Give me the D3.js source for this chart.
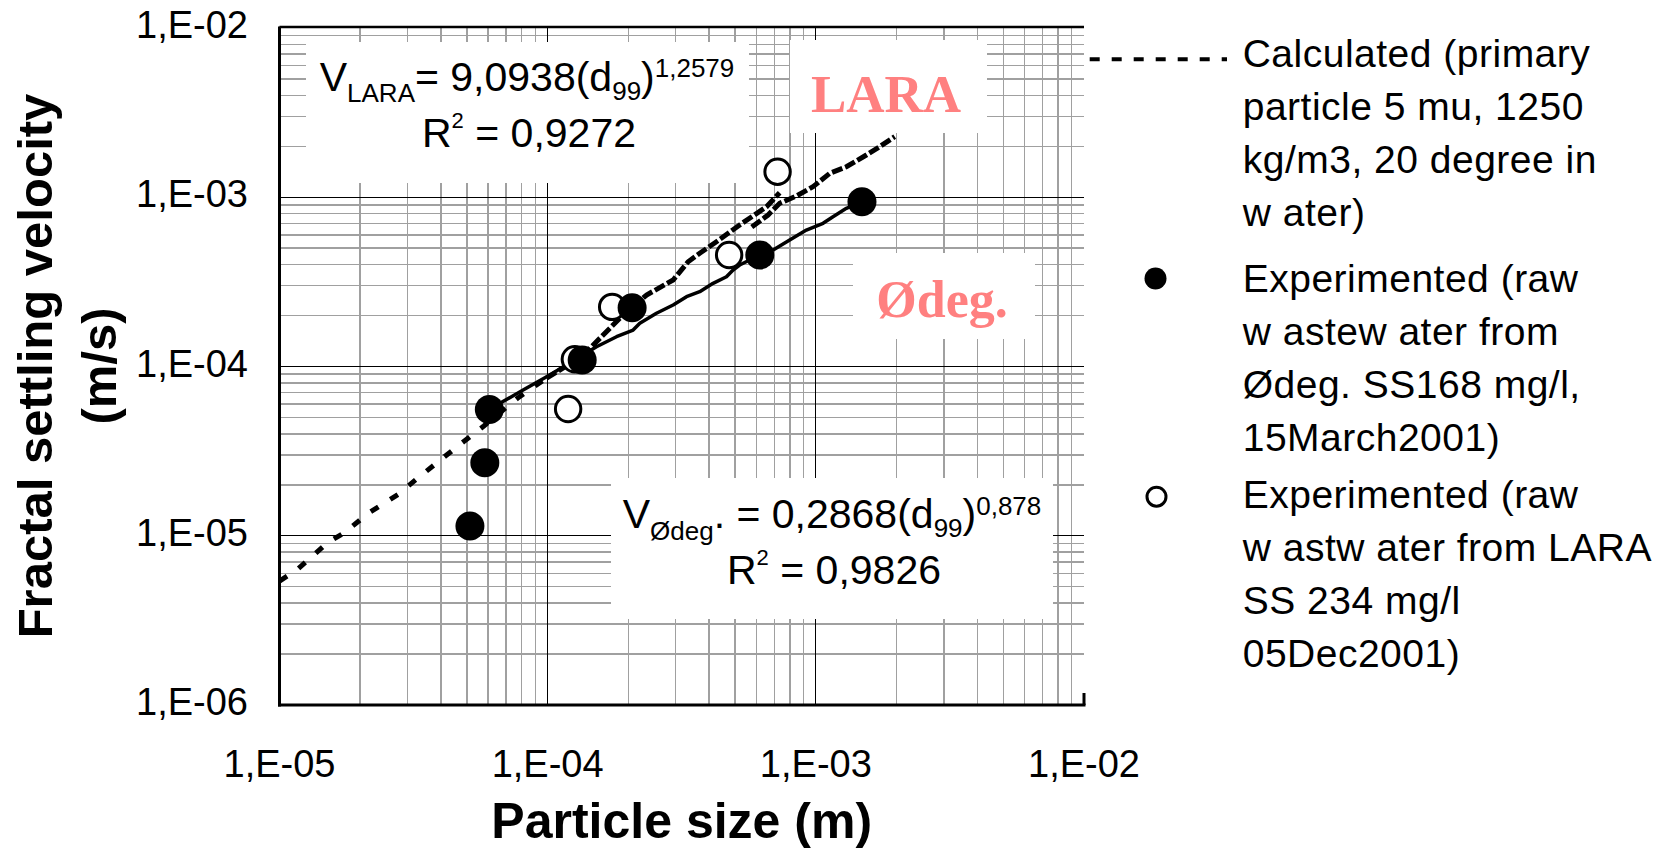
<!DOCTYPE html>
<html>
<head>
<meta charset="utf-8">
<script src="https://cdn.jsdelivr.net/npm/d3@7"></script>
<style>
  body { margin: 0; background: #fff; }
  svg { display: block; font-family: Arial, "Liberation Sans", sans-serif; }
</style>
</head>
<body>
<svg id="chart" width="1673" height="850"></svg>
<script>
// axis ticks
const xTickValues = [1e-5, 1e-4, 1e-3, 1e-2];
const xTickLabels = ["1,E-05", "1,E-04", "1,E-03", "1,E-02"];
const yTickValues = [1e-6, 1e-5, 1e-4, 1e-3, 1e-2];
const yTickLabels = ["1,E-06", "1,E-05", "1,E-04", "1,E-03", "1,E-02"];

// experimented, raw wastewater from Ødeg (filled dots)
const odegSize = [5.13e-5, 5.83e-5, 6.06e-5, 1.345e-4, 2.065e-4, 6.18e-4, 1.486e-3];
const odegVel  = [1.14e-5, 2.70e-5, 5.57e-5, 1.093e-4, 2.225e-4, 4.56e-4, 9.42e-4];

// experimented, raw wastewater from LARA (open dots)
const laraSize = [1.192e-4, 1.263e-4, 1.74e-4, 4.75e-4, 7.2e-4];
const laraVel  = [5.61e-5, 1.103e-4, 2.25e-4, 4.56e-4, 1.416e-3];

// calculated curves, [size, velocity]
const calcLow = [[1.00e-5,5.40e-6],[1.159e-5,6.28e-6],[1.50e-5,9.02e-6],[1.754e-5,1.048e-5],
  [2.143e-5,1.358e-5],[2.773e-5,1.758e-5],[3.246e-5,2.164e-5],[4.20e-5,3.00e-5],
  [4.99e-5,3.715e-5],[5.78e-5,4.45e-5],[7.74e-5,6.52e-5],[9.91e-5,8.55e-5]];
const calcLaraA = [[9.91e-5,8.55e-5],[1.175e-4,1.007e-4],[1.396e-4,1.223e-4],[1.858e-4,1.927e-4],
  [2.338e-4,2.645e-4],[2.937e-4,3.245e-4],[3.34e-4,4.16e-4],[3.69e-4,4.667e-4],
  [4.26e-4,5.46e-4],[5.20e-4,6.86e-4],[6.55e-4,8.79e-4],[7.33e-4,1.064e-3]];
const calcLaraB = [[5.77e-4,6.67e-4],[6.635e-4,7.855e-4],[7.33e-4,9.21e-4],[8.47e-4,1.017e-3],
  [9.76e-4,1.154e-3],[1.127e-3,1.385e-3],[1.30e-3,1.515e-3],[1.543e-3,1.777e-3],
  [1.730e-3,1.989e-3],[1.968e-3,2.28e-3]];
const calcOdeg = [[6.064e-5,5.57e-5],[6.635e-5,6.063e-5],[8.10e-5,7.26e-5],[9.91e-5,8.70e-5],
  [1.175e-4,1.021e-4],[1.521e-4,1.309e-4],[1.806e-4,1.50e-4],[2.083e-4,1.643e-4],
  [2.206e-4,1.80e-4],[2.545e-4,2.062e-4],[2.937e-4,2.309e-4],[3.294e-4,2.585e-4],
  [3.69e-4,2.766e-4],[4.138e-4,3.10e-4],[4.643e-4,3.393e-4],[4.913e-4,3.717e-4],
  [5.20e-4,3.978e-4],[6.178e-4,4.558e-4],[6.93e-4,4.88e-4],[7.99e-4,5.59e-4],
  [9.22e-4,6.40e-4],[1.064e-3,7.02e-4],[1.159e-3,7.675e-4],[1.30e-3,8.60e-4],[1.487e-3,9.41e-4]];

const legendCalc = ["Calculated (primary", "particle 5 mu, 1250", "kg/m3, 20 degree in", "w ater)"];
const legendOdeg = ["Experimented (raw", "w astew ater from", "Ødeg. SS168 mg/l,", "15March2001)"];
const legendLara = ["Experimented (raw", "w astw ater from LARA", "SS 234 mg/l", "05Dec2001)"];

const svg = d3.select("#chart");
svg.append("rect").attr("width", 1673).attr("height", 850).attr("fill", "#fff");

const x = d3.scaleLog().domain([1e-5, 1e-2]).range([279.5, 1084]);
const y = d3.scaleLog().domain([1e-6, 1e-2]).range([705, 28]);

// minor grid lines
const minorX = [], minorY = [];
[1e-5, 1e-4, 1e-3].forEach(d => { for (let k = 2; k <= 9; k++) minorX.push(d * k); });
[1e-6, 1e-5, 1e-4, 1e-3].forEach(d => { for (let k = 2; k <= 9; k++) minorY.push(d * k); });

const grid = svg.append("g").attr("shape-rendering", "crispEdges");
grid.selectAll("line.mx").data(minorX).enter().append("line")
    .attr("x1", d => x(d)).attr("x2", d => x(d))
    .attr("y1", y(1e-2)).attr("y2", y(1e-6))
    .attr("stroke", "#a0a0a0").attr("stroke-width", 1.5);
grid.selectAll("line.my").data(minorY).enter().append("line")
    .attr("y1", d => y(d)).attr("y2", d => y(d))
    .attr("x1", x(1e-5)).attr("x2", x(1e-2))
    .attr("stroke", "#a0a0a0").attr("stroke-width", 1.5);
grid.selectAll("line.MX").data([1e-4, 1e-3]).enter().append("line")
    .attr("x1", d => x(d)).attr("x2", d => x(d))
    .attr("y1", y(1e-2)).attr("y2", y(1e-6))
    .attr("stroke", "#000").attr("stroke-width", 1);
grid.selectAll("line.MY").data([1e-5, 1e-4, 1e-3]).enter().append("line")
    .attr("y1", d => y(d)).attr("y2", d => y(d))
    .attr("x1", x(1e-5)).attr("x2", x(1e-2))
    .attr("stroke", "#000").attr("stroke-width", 1);

// white boxes behind the annotations
const boxes = [
    {x: 306, y: 42, w: 443, h: 141},
    {x: 611, y: 478, w: 442, h: 141},
    {x: 790, y: 40, w: 197, h: 93},
    {x: 853, y: 253, w: 182, h: 86}
];
svg.selectAll("rect.box").data(boxes).enter().append("rect")
    .attr("x", d => d.x).attr("y", d => d.y)
    .attr("width", d => d.w).attr("height", d => d.h)
    .attr("fill", "#fff");

// frame
const frame = svg.append("g").attr("stroke", "#000");
frame.append("line").attr("x1", x(1e-5)).attr("x2", x(1e-5))
    .attr("y1", y(1e-2) - 1.5).attr("y2", y(1e-6) + 1.5).attr("stroke-width", 3);
frame.append("line").attr("x1", x(1e-5) - 1.5).attr("x2", x(1e-2) + 1.5)
    .attr("y1", y(1e-6)).attr("y2", y(1e-6)).attr("stroke-width", 3);
frame.append("line").attr("x1", x(1e-5)).attr("x2", x(1e-2))
    .attr("y1", y(1e-2) - 1).attr("y2", y(1e-2) - 1).attr("stroke-width", 2.5);
frame.append("line").attr("x1", x(1e-2)).attr("x2", x(1e-2))
    .attr("y1", y(1e-6) - 12).attr("y2", y(1e-6)).attr("stroke-width", 3);

// tick labels
svg.selectAll("text.xt").data(xTickValues).enter().append("text")
    .attr("x", d => x(d)).attr("y", 777)
    .attr("text-anchor", "middle").attr("font-size", 38)
    .text((d, i) => xTickLabels[i]);
svg.selectAll("text.yt").data(yTickValues).enter().append("text")
    .attr("x", 248).attr("y", d => y(d) + 10)
    .attr("text-anchor", "end").attr("font-size", 38)
    .text((d, i) => yTickLabels[i]);

// axis titles
svg.append("text").attr("x", 681.7).attr("y", 838)
    .attr("text-anchor", "middle").attr("font-size", 50).attr("font-weight", "bold")
    .text("Particle size (m)");
const yt = svg.append("g").attr("font-size", 49).attr("font-weight", "bold").attr("text-anchor", "middle");
yt.append("text").attr("transform", "translate(52,366) rotate(-90)").text("Fractal settling velocity");
yt.append("text").attr("transform", "translate(116,366) rotate(-90)").text("(m/s)");

// calculated curves
const line = d3.line().x(d => x(d[0])).y(d => y(d[1]));
svg.append("path").attr("d", line(calcLow)).attr("fill", "none")
    .attr("stroke", "#000").attr("stroke-width", 5).attr("stroke-dasharray", "9 14");
svg.append("path").attr("d", line(calcLaraA)).attr("fill", "none")
    .attr("stroke", "#000").attr("stroke-width", 5).attr("stroke-dasharray", "11 3");
svg.append("path").attr("d", line(calcLaraB)).attr("fill", "none")
    .attr("stroke", "#000").attr("stroke-width", 5).attr("stroke-dasharray", "11 3");
svg.append("path").attr("d", line(calcOdeg)).attr("fill", "none")
    .attr("stroke", "#000").attr("stroke-width", 3.5).attr("stroke-linejoin", "round");

// experimented points
svg.selectAll("circle.lara").data(laraSize).enter().append("circle")
    .attr("cx", d => x(d)).attr("cy", (d, i) => y(laraVel[i])).attr("r", 12.7)
    .attr("fill", "#fff").attr("stroke", "#000").attr("stroke-width", 3);
svg.selectAll("circle.odeg").data(odegSize).enter().append("circle")
    .attr("cx", d => x(d)).attr("cy", (d, i) => y(odegVel[i])).attr("r", 14.5)
    .attr("fill", "#000");

// equation annotations
const eq1 = svg.append("text").attr("x", 527).attr("y", 90.7)
    .attr("text-anchor", "middle").attr("font-size", 41);
eq1.append("tspan").text("V");
eq1.append("tspan").attr("font-size", 26).attr("dy", 11).text("LARA");
eq1.append("tspan").attr("dy", -11).text("= 9,0938(d");
eq1.append("tspan").attr("font-size", 26).attr("dy", 9).text("99");
eq1.append("tspan").attr("dy", -9).text(")");
eq1.append("tspan").attr("font-size", 26).attr("dy", -14).text("1,2579");

const r1 = svg.append("text").attr("x", 529).attr("y", 146.7)
    .attr("text-anchor", "middle").attr("font-size", 41);
r1.append("tspan").text("R");
r1.append("tspan").attr("font-size", 22).attr("dy", -19).text("2");
r1.append("tspan").attr("dy", 19).text(" = 0,9272");

const eq2 = svg.append("text").attr("x", 832).attr("y", 528.3)
    .attr("text-anchor", "middle").attr("font-size", 41);
eq2.append("tspan").text("V");
eq2.append("tspan").attr("font-size", 26).attr("dy", 12).text("Ødeg");
eq2.append("tspan").attr("dy", -12).text(". = 0,2868(d");
eq2.append("tspan").attr("font-size", 26).attr("dy", 9).text("99");
eq2.append("tspan").attr("dy", -9).text(")");
eq2.append("tspan").attr("font-size", 26).attr("dy", -13).text("0,878");

const r2 = svg.append("text").attr("x", 834).attr("y", 584)
    .attr("text-anchor", "middle").attr("font-size", 41);
r2.append("tspan").text("R");
r2.append("tspan").attr("font-size", 22).attr("dy", -19).text("2");
r2.append("tspan").attr("dy", 19).text(" = 0,9826");

// site labels
svg.append("text").attr("x", 886).attr("y", 111.7).attr("text-anchor", "middle")
    .attr("font-family", "'Liberation Serif', 'Times New Roman', serif")
    .attr("font-weight", "bold").attr("font-size", 53).attr("fill", "#ff8080").text("LARA");
svg.append("text").attr("x", 942).attr("y", 316.7).attr("text-anchor", "middle")
    .attr("font-family", "'Liberation Serif', 'Times New Roman', serif")
    .attr("font-weight", "bold").attr("font-size", 52).attr("fill", "#ff8080").text("Ødeg.");

// legend
const legX = 1242.7, lh = 53;
const lg = svg.append("g").attr("font-size", 39).attr("letter-spacing", 0.5);
const addLines = (lines, y0) => lines.forEach((t, i) =>
    lg.append("text").attr("x", legX).attr("y", y0 + i * lh).text(t));
addLines(legendCalc, 66.7);
addLines(legendOdeg, 291.7);
addLines(legendLara, 508.3);

svg.append("line").attr("x1", 1089.7).attr("x2", 1227).attr("y1", 59.3).attr("y2", 59.3)
    .attr("stroke", "#000").attr("stroke-width", 4).attr("stroke-dasharray", "10 12");
svg.append("circle").attr("cx", 1155.5).attr("cy", 278.5).attr("r", 11).attr("fill", "#000");
svg.append("circle").attr("cx", 1156.5).attr("cy", 496.7).attr("r", 9.5)
    .attr("fill", "#fff").attr("stroke", "#000").attr("stroke-width", 3);
</script>
</body>
</html>
